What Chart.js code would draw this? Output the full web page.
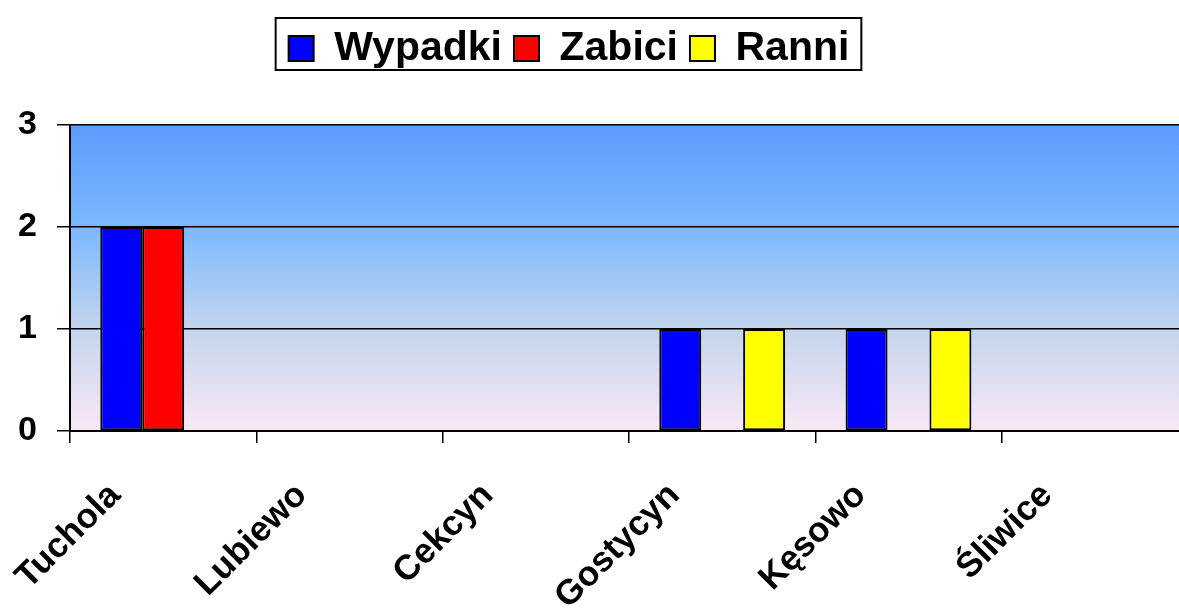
<!DOCTYPE html>
<html>
<head>
<meta charset="utf-8">
<script src="https://cdn.jsdelivr.net/npm/chart.js@4/dist/chart.umd.min.js"></script>
<style>
  html, body { margin: 0; padding: 0; background: #fff; overflow: hidden; }
  #wrap { width: 1190px; height: 608px; }
</style>
</head>
<body>
<div id="wrap"><canvas id="chart"></canvas></div>
<script>
// --- Data ---
const categories = ['Tuchola', 'Lubiewo', 'Cekcyn', 'Gostycyn', 'Kęsowo', 'Śliwice'];
const wypadki = [2, 0, 0, 1, 1, 0];
const zabici  = [2, 0, 0, 0, 0, 0];
const ranni   = [0, 0, 0, 1, 1, 0];
const yTicks  = [0, 1, 2, 3];

const FONT = '"Liberation Sans", Arial, sans-serif';

// gradient fill behind the plot area
const plotBackground = {
    id: 'plotBackground',
    beforeDraw(chart) {
        const { ctx, chartArea: a } = chart;
        const g = ctx.createLinearGradient(0, a.top, 0, a.bottom);
        g.addColorStop(0, '#5c9bff');
        g.addColorStop(0.33, '#7ab8ff');
        g.addColorStop(0.66, '#c2d4ec');
        g.addColorStop(1, '#f9e8f6');
        ctx.save();
        ctx.fillStyle = g;
        ctx.fillRect(a.left, a.top, a.right - a.left, a.bottom - a.top);
        ctx.restore();
    }
};

// extra room under the legend, nudge it left, and frame it
const legendBox = {
    id: 'legendBox',
    beforeInit(chart) {
        const fit = chart.legend.fit;
        chart.legend.fit = function () {
            fit.bind(chart.legend)();
            this.height += 46;
        };
    },
    afterLayout(chart) {
        const l = chart.legend;
        l.left -= 25;
        l.right -= 25;
        l.adjustHitBoxes();
    },
    afterDraw(chart) {
        const l = chart.legend;
        const ctx = chart.ctx;
        let w = 0;
        l.legendHitBoxes.forEach(b => { w = Math.max(w, b.left + b.width); });
        const x0 = l.legendHitBoxes[0].left - 13;
        const x1 = w + 12;
        ctx.save();
        ctx.strokeStyle = '#000';
        ctx.lineWidth = 2;
        ctx.strokeRect(x0, 18, x1 - x0, 52);
        ctx.restore();
    }
};

const ctx = document.getElementById('chart').getContext('2d');
new Chart(ctx, {
    type: 'bar',
    data: {
        labels: categories,
        datasets: [
            { label: 'Wypadki', data: wypadki, backgroundColor: '#0000ff' },
            { label: 'Zabici', data: zabici, backgroundColor: '#ff0000' },
            { label: 'Ranni', data: ranni, backgroundColor: '#ffff00' }
        ]
    },
    options: {
        responsive: true,
        maintainAspectRatio: false,
        animation: false,
        layout: { padding: { top: 16, right: 2, left: 0, bottom: 0 } },
        datasets: {
            bar: {
                categoryPercentage: 0.675,
                barPercentage: 1.0,
                borderColor: '#000',
                borderWidth: 2,
                borderSkipped: false
            }
        },
        plugins: {
            legend: {
                position: 'top',
                labels: {
                    color: '#000',
                    font: { family: FONT, size: 41, weight: 'bold' },
                    boxWidth: 25,
                    boxHeight: 25,
                    padding: 12,
                    useBorderRadius: false
                }
            },
            tooltip: { enabled: false }
        },
        scales: {
            x: {
                grid: { display: true, offset: true, drawOnChartArea: false, color: '#000', tickLength: 12, lineWidth: 1.5 },
                border: { color: '#000', width: 2 },
                ticks: {
                    color: '#000',
                    font: { family: FONT, size: 35, weight: 'bold' },
                    maxRotation: 45,
                    minRotation: 45,
                    labelOffset: -48,
                    padding: 32,
                    autoSkip: false
                },
                afterFit(scale) { scale.height = 177; }
            },
            y: {
                min: 0,
                max: 3,
                afterBuildTicks(scale) { scale.ticks = yTicks.map(v => ({ value: v })); },
                grid: { color: '#000', lineWidth: 1.5, tickLength: 13 },
                border: { color: '#000', width: 2 },
                ticks: {
                    color: '#000',
                    font: { family: FONT, size: 34, weight: 'bold' },
                    padding: 20
                },
                afterFit(scale) { scale.width = 70; }
            }
        }
    },
    plugins: [plotBackground, legendBox]
});
</script>
</body>
</html>
